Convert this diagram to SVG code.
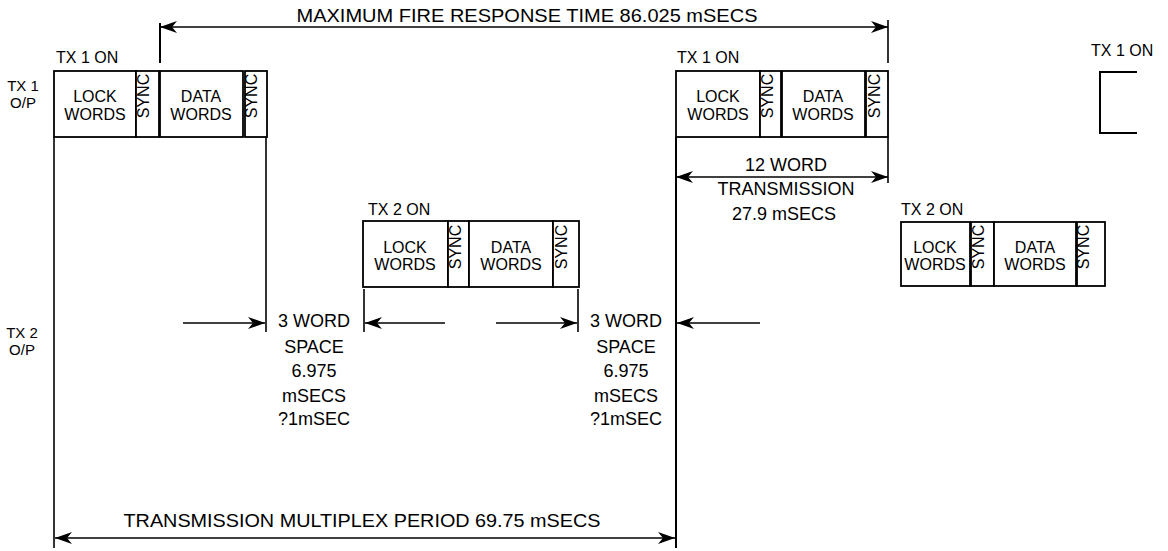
<svg xmlns="http://www.w3.org/2000/svg" width="1168" height="551" viewBox="0 0 1168 551">
<style>
text{font-family:"Liberation Sans",Arial,sans-serif;fill:#000}
.bx{fill:#fff;stroke:#000;stroke-width:1.8}
.t16{font-size:16px;text-anchor:middle}
.sync{font-size:16px;text-anchor:middle}
.on{font-size:16px}
.lbl{font-size:15px;text-anchor:middle}
.big{font-size:18px;text-anchor:middle}
.ln{stroke:#000;stroke-width:1.6;fill:none}
</style>
<defs>
<marker id="ah" markerWidth="18" markerHeight="12" refX="17" refY="6" orient="auto-start-reverse" markerUnits="userSpaceOnUse">
<path d="M0,0 L17,6 L0,12 L5,6 z" fill="#000"/>
</marker>
</defs>
<rect width="1168" height="551" fill="#fff"/>

<g id="labels">
<text class="lbl" x="23" y="91">TX 1</text>
<text class="lbl" x="23" y="108">O/P</text>
<text class="lbl" x="22" y="338">TX 2</text>
<text class="lbl" x="22" y="355">O/P</text>
</g>

<g id="tx1-a">
<text class="on" x="56" y="63">TX 1 ON</text>
<rect class="bx" x="54" y="71" width="82" height="66"/>
<rect class="bx" x="136" y="71" width="23" height="66"/>
<rect class="bx" x="160" y="71" width="83" height="66"/>
<rect class="bx" x="245" y="71" width="22" height="66"/>
<text class="t16" x="95" y="102">LOCK</text>
<text class="t16" x="95" y="120">WORDS</text>
<text class="t16" x="201" y="102">DATA</text>
<text class="t16" x="201" y="120">WORDS</text>
<text class="sync" transform="translate(149,96) rotate(-90)">SYNC</text>
<text class="sync" transform="translate(257,96) rotate(-90)">SYNC</text>
</g>

<g id="tx1-b">
<text class="on" x="677" y="63">TX 1 ON</text>
<rect class="bx" x="676" y="71" width="84" height="66"/>
<rect class="bx" x="760" y="71" width="21" height="66"/>
<rect class="bx" x="782" y="71" width="83" height="66"/>
<rect class="bx" x="866" y="71" width="22" height="66"/>
<text class="t16" x="718" y="102">LOCK</text>
<text class="t16" x="718" y="120">WORDS</text>
<text class="t16" x="823" y="102">DATA</text>
<text class="t16" x="823" y="120">WORDS</text>
<text class="sync" transform="translate(773,96) rotate(-90)">SYNC</text>
<text class="sync" transform="translate(880,96) rotate(-90)">SYNC</text>
</g>

<g id="tx1-c">
<text class="on" x="1091" y="56">TX 1 ON</text>
<path class="ln" d="M1137,72 H1100 V133 H1137" style="stroke-width:2"/>
</g>

<g id="tx2-a">
<text class="on" x="368" y="215">TX 2 ON</text>
<rect class="bx" x="363" y="221" width="85" height="66"/>
<rect class="bx" x="448" y="221" width="21" height="66"/>
<rect class="bx" x="469" y="221" width="84" height="66"/>
<rect class="bx" x="553" y="221" width="26" height="66"/>
<text class="t16" x="405" y="253">LOCK</text>
<text class="t16" x="405" y="270">WORDS</text>
<text class="t16" x="511" y="253">DATA</text>
<text class="t16" x="511" y="270">WORDS</text>
<text class="sync" transform="translate(461,247) rotate(-90)">SYNC</text>
<text class="sync" transform="translate(567,247) rotate(-90)">SYNC</text>
</g>

<g id="tx2-b">
<text class="on" x="901" y="215">TX 2 ON</text>
<rect class="bx" x="901" y="222" width="69" height="64"/>
<rect class="bx" x="971" y="222" width="23" height="64"/>
<rect class="bx" x="994" y="222" width="82" height="64"/>
<rect class="bx" x="1077" y="222" width="28" height="64"/>
<text class="t16" x="935" y="253">LOCK</text>
<text class="t16" x="935" y="270">WORDS</text>
<text class="t16" x="1035" y="253">DATA</text>
<text class="t16" x="1035" y="270">WORDS</text>
<text class="sync" transform="translate(984,247) rotate(-90)">SYNC</text>
<text class="sync" transform="translate(1089,247) rotate(-90)">SYNC</text>
</g>

<g id="connectors">
<line class="ln" x1="160" y1="23" x2="160" y2="63" style="stroke-width:2"/>
<line class="ln" x1="888" y1="20" x2="888" y2="63"/>
<line class="ln" x1="160" y1="27" x2="888" y2="27" marker-start="url(#ah)" marker-end="url(#ah)"/>
<line class="ln" x1="54" y1="137" x2="54" y2="548"/>
<line class="ln" x1="266" y1="137" x2="266" y2="332"/>
<line class="ln" x1="676" y1="137" x2="676" y2="548" style="stroke-width:2"/>
<line class="ln" x1="888" y1="137" x2="888" y2="183"/>
<line class="ln" x1="676" y1="177" x2="888" y2="177" marker-start="url(#ah)" marker-end="url(#ah)"/>
<line class="ln" x1="364" y1="289" x2="364" y2="332"/>
<line class="ln" x1="578" y1="289" x2="578" y2="332"/>
<line class="ln" x1="183" y1="323" x2="265" y2="323" marker-end="url(#ah)"/>
<line class="ln" x1="445" y1="323" x2="365" y2="323" marker-end="url(#ah)"/>
<line class="ln" x1="496" y1="323" x2="577" y2="323" marker-end="url(#ah)"/>
<line class="ln" x1="760" y1="323" x2="677" y2="323" marker-end="url(#ah)"/>
<line class="ln" x1="55" y1="538" x2="675" y2="538" marker-start="url(#ah)" marker-end="url(#ah)"/>
</g>

<g id="dim-labels">
<text class="big" x="527" y="22" textLength="461" lengthAdjust="spacingAndGlyphs">MAXIMUM FIRE RESPONSE TIME 86.025 mSECS</text>
<text class="big" x="786" y="171">12 WORD</text>
<text class="big" x="786" y="195">TRANSMISSION</text>
<text class="big" x="784" y="220">27.9 mSECS</text>
<text class="big" x="314" y="327">3 WORD</text>
<text class="big" x="314" y="353">SPACE</text>
<text class="big" x="314" y="377">6.975</text>
<text class="big" x="314" y="402">mSECS</text>
<text class="big" x="314" y="425">?1mSEC</text>
<text class="big" x="626" y="327">3 WORD</text>
<text class="big" x="626" y="353">SPACE</text>
<text class="big" x="626" y="377">6.975</text>
<text class="big" x="626" y="402">mSECS</text>
<text class="big" x="626" y="425">?1mSEC</text>
<text class="big" x="362" y="527" textLength="477" lengthAdjust="spacingAndGlyphs">TRANSMISSION MULTIPLEX PERIOD 69.75 mSECS</text>
</g>
</svg>
